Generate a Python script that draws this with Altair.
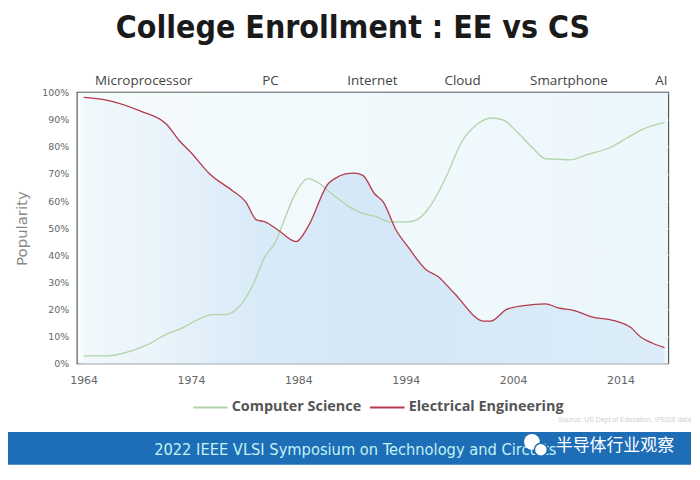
import altair as alt
import pandas as pd

# ---- data ----
ee_years = [1964, 1966, 1969.2, 1971.7, 1972.9, 1974.1, 1975.7, 1977.8, 1979.1, 1980.1, 1980.9,
            1982.1, 1983.8, 1984.9, 1986.8, 1987.4, 1988.4, 1989.2, 1990, 1991.1, 1991.9, 1993.1,
            1994.2, 1995.9, 1997, 1998.5, 2001.3, 2001.9, 2003.4, 2005, 2007, 2008.2, 2009.6,
            2011.5, 2013.3, 2015, 2015.8, 2017, 2018.1]
ee_values = [98.3, 97.4, 93.4, 88.5, 82.4, 77.5, 70.2, 64, 59.7, 53, 52.3, 49.3, 45, 50.5, 66.5,
             68.3, 70, 70.3, 69.5, 62.7, 59.7, 49.3, 43.1, 34.6, 32.1, 26, 15.6, 15.6, 19.9, 21.3,
             22, 20.5, 19.6, 17, 15.9, 13.1, 10, 7.4, 5.8]

cs_years = [1964, 1966.2, 1968, 1969.8, 1971.7, 1973.2, 1974.5, 1976, 1977.2, 1978.5, 1979.7,
            1980.9, 1981.9, 1982.8, 1983.8, 1984.9, 1986, 1987.1, 1988.6, 1990, 1991.1, 1992.6,
            1994.2, 1995.1, 1996, 1997.9, 1999.1, 2000.7, 2002, 2003.1, 2004.4, 2005.9, 2007,
            2008.1, 2009.3, 2010.9, 2013, 2014.6, 2016.1, 2018.1]
cs_values = [2.7, 2.7, 4, 6.6, 10.7, 13.1, 15.9, 18, 18, 21, 28.4, 39.5, 45, 54.2, 63.4, 68.3,
             66.4, 62.7, 58.2, 55.4, 54.4, 52.3, 52.3, 53.2, 56.6, 70.1, 81.1, 88.5, 90.7, 89.9,
             85.4, 79.3, 75.6, 75.5, 75.2, 77.2, 79.7, 83.3, 86.6, 89.1]

series_names = ["Computer Science", "Electrical Engineering"]
series_colors = ["#b0d4a8", "#b43a4c"]

era_labels = ["Microprocessor", "PC", "Internet", "Cloud", "Smartphone", "AI"]
era_years = [1969.6, 1981.4, 1990.9, 1999.3, 2009.2, 2017.8]

x_ticks = [1964, 1974, 1984, 1994, 2004, 2014]
y_ticks = [0, 10, 20, 30, 40, 50, 60, 70, 80, 90, 100]

title_text = "College Enrollment : EE vs CS"
source_text = "Source: US Dept of Education, IPEDS data"
banner_text = "2022 IEEE VLSI Symposium on Technology and Circuits"
watermark_text = "半导体行业观察"

# ---- tables ----
lines_df = pd.concat([
    pd.DataFrame({"year": cs_years, "value": cs_values, "series": series_names[0]}),
    pd.DataFrame({"year": ee_years, "value": ee_values, "series": series_names[1]}),
])
ee_df = pd.DataFrame({"year": ee_years, "value": ee_values})
era_df = pd.DataFrame({"label": era_labels, "year": era_years})
one = pd.DataFrame({"a": [0]})

W, H = 594, 272
xscale = alt.Scale(domain=[1963.44, 2018.44], nice=False, zero=False)
yscale = alt.Scale(domain=[0, 100], nice=False)

x_axis = alt.Axis(values=x_ticks, format="d", grid=False, ticks=False, domain=False,
                  labelFontSize=11, labelColor="#666", labelPadding=11,
                  labelFont="DejaVu Sans", title=None)
y_axis = alt.Axis(values=y_ticks, labelExpr="datum.value + '%'", grid=True,
                  gridColor="#cdd5db", gridWidth=1.2, ticks=False, domain=False,
                  labelFontSize=9.5, labelColor="#666", labelPadding=9,
                  labelFont="DejaVu Sans",
                  title="Popularity", titleFontSize=15, titleColor="#888",
                  titleFontWeight="normal", titleFont="DejaVu Sans", titlePadding=12)

bg = alt.Chart(one).mark_rect(
    color=alt.LinearGradient(
        gradient="linear", x1=0, x2=1, y1=0, y2=0,
        stops=[alt.GradientStop(offset=0, color="#f6fbfd"),
               alt.GradientStop(offset=1, color="#ecf7fb")])
).encode(x=alt.value(0), x2=alt.value(W), y=alt.value(0), y2=alt.value(H))

area = alt.Chart(ee_df).mark_area(
    interpolate="monotone",
    color=alt.LinearGradient(
        gradient="linear", x1=0, x2=1, y1=0, y2=0,
        stops=[alt.GradientStop(offset=0, color="#f1f8fc"),
               alt.GradientStop(offset=0.12, color="#eaf4fb"),
               alt.GradientStop(offset=0.3, color="#d9eaf8"),
               alt.GradientStop(offset=0.55, color="#d5e8f7"),
               alt.GradientStop(offset=1, color="#dcedf9")])
).encode(
    x=alt.X("year:Q", scale=xscale, axis=x_axis),
    y=alt.Y("value:Q", scale=yscale, axis=y_axis),
)

lines = alt.Chart(lines_df).mark_line(interpolate="monotone", strokeWidth=1.3).encode(
    x=alt.X("year:Q", scale=xscale, axis=x_axis),
    y=alt.Y("value:Q", scale=yscale, axis=y_axis),
    color=alt.Color("series:N", sort=series_names,
                    scale=alt.Scale(domain=series_names, range=series_colors),
                    legend=alt.Legend(orient="none", legendX=115, legendY=298, direction="horizontal",
                                      title=None, symbolType="stroke", symbolSize=1200,
                                      symbolStrokeWidth=2.2, labelFontSize=14.5,
                                      labelFontWeight="bold", labelColor="#555",
                                      labelFont="Open Sans", columnPadding=3, labelOffset=3)),
)

eras = alt.Chart(era_df).mark_text(fontSize=13.5, color="#444", baseline="middle",
                                   font="Open Sans").encode(
    x=alt.X("year:Q", scale=xscale, axis=x_axis), y=alt.value(-12), text="label:N")

title = alt.Chart(one).mark_text(text=title_text, fontSize=32, font="DejaVu Sans Condensed",
                                 fontWeight="bold", color="#1a1a1a", baseline="middle",
                                 align="center").encode(
    x=alt.value(277), y=alt.value(-65))

source = alt.Chart(one).mark_text(text=source_text, fontSize=7, color="#cfcfcf",
                                  align="right", baseline="middle").encode(
    x=alt.value(617), y=alt.value(329))

banner = alt.Chart(one).mark_rect(color="#1e6db7").encode(
    x=alt.value(-70), x2=alt.value(617), y=alt.value(341), y2=alt.value(374))

banner_txt = alt.Chart(one).mark_text(text=banner_text, fontSize=16.4, color="#c2f2f3",
                                      font="DejaVu Sans Condensed", align="left",
                                      baseline="middle").encode(
    x=alt.value(77), y=alt.value(359))

bubble1 = alt.Chart(one).mark_point(filled=True, color="white", opacity=1, size=250,
                                    shape="circle").encode(x=alt.value(457), y=alt.value(351))
bubble2 = alt.Chart(one).mark_point(filled=True, fill="white", stroke="#1e6db7", strokeWidth=1.5,
                                    opacity=1, size=170, shape="circle").encode(
    x=alt.value(466), y=alt.value(359))

water = alt.Chart(one).mark_text(text=watermark_text, fontSize=17, color="white",
                                 font="Noto Sans CJK SC", align="left",
                                 baseline="middle").encode(
    x=alt.value(481), y=alt.value(355))

chart = alt.layer(bg, area, lines, eras, title, source, banner, banner_txt,
                  bubble1, bubble2, water).properties(
    width=W, height=H,
    autosize=alt.AutoSizeParams(type="none"),
    padding={"left": 70, "top": 84, "right": 24, "bottom": 108},
).configure_view(stroke="#3c3c3c", strokeWidth=2)

chart.save("out.html", embed_options={"renderer": "svg", "actions": False})
